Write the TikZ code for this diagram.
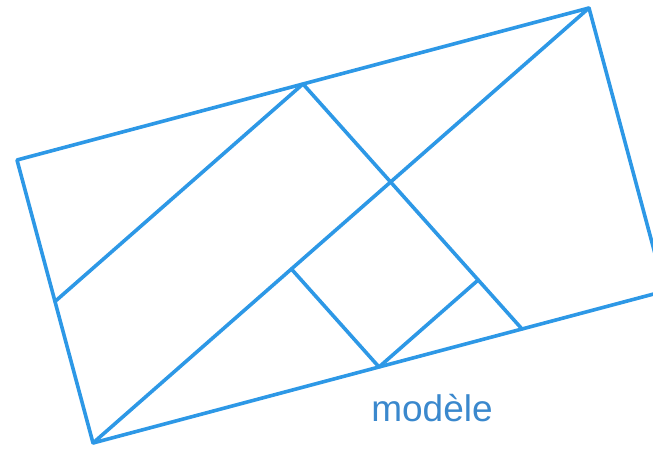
\documentclass[tikz,border=0pt]{standalone}
\usepackage{fontspec}
\setmainfont{Liberation Sans}
\usetikzlibrary{calc}
\definecolor{traitbleu}{RGB}{45,152,230}
\definecolor{textebleu}{RGB}{58,136,205}
\begin{document}
\begin{tikzpicture}[
    x=1pt, y=1pt,
    trait/.style={
        draw=traitbleu, line width=3.6pt, line cap=round, line join=round
    },
    legende/.style={
        font=\fontsize{37}{40}\selectfont, text=textebleu, anchor=base
    }
]

\clip (0,0) rectangle (653,449);

% Corners of the rectangle
\coordinate (hg) at (17,289);
\coordinate (hd) at (589,441);
\coordinate (bg) at (93,6);
\coordinate (bd) at ($(hd)+(bg)-(hg)$);

% Points on the sides
\coordinate (mh) at ($(hg)!0.5!(hd)$);
\coordinate (mg) at ($(hg)!0.5!(bg)$);
\coordinate (mb) at ($(bg)!0.5!(bd)$);
\coordinate (qb) at ($(bg)!0.75!(bd)$);

% Square
\coordinate (ca) at ($(bg)!0.4!(hd)$);
\coordinate (cb) at ($(mh)!0.8!(qb)$);

% Outline
\draw[trait] (hg) -- (hd) -- (bd) -- (bg) -- cycle;

% Inner lines
\draw[trait] (mg) -- (mh) -- (qb);
\draw[trait] (bg) -- (hd);
\draw[trait] (ca) -- (mb) -- (cb);

% Caption
\node[legende] (titre) at (432,27) {modèle};

\end{tikzpicture}
\end{document}
